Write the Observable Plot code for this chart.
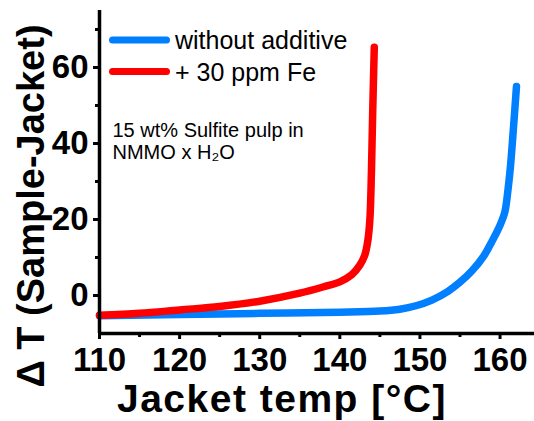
<!DOCTYPE html>
<html><head><meta charset="utf-8">
<script src="https://cdn.jsdelivr.net/npm/d3@7"></script>
<script src="https://cdn.jsdelivr.net/npm/@observablehq/plot@0.6"></script>
<style>
html,body{margin:0;padding:0;background:#fff;}
#wrap{position:relative;width:534px;height:421px;overflow:hidden;font-family:"Liberation Sans",Arial,sans-serif;}
#wrap svg.overlay{position:absolute;left:0;top:0;pointer-events:none;}
</style></head><body><div id="wrap"></div>
<script>
// ---- data ----
const seriesNames = ["without additive", "+ 30 ppm Fe"];
const seriesColors = ["#007fff", "#ff0000"];

const blueT  = [110, 120, 130, 140, 145, 147.5, 149.5, 151.5, 153.5, 155, 156.5, 158, 159, 160, 160.6, 161.0, 161.3, 161.6, 162.05];
const blueDT = [-5.3, -5.0, -4.7, -4.4, -4.1, -3.6, -2.7, -1.2, 1.1, 3.5, 6.5, 10.5, 14.3, 18.5, 22, 28, 34, 42, 55];

const redT  = [110, 115, 120, 125, 130, 135, 138, 140, 141.5, 142.5, 143.1, 143.5, 143.75, 143.95, 144.1, 144.3];
const redDT = [-5.2, -4.7, -3.8, -2.9, -1.5, 0.6, 2.3, 3.6, 5.5, 8, 10.5, 14.5, 20, 33, 48, 65.3];

const xTicks = [110, 120, 130, 140, 150, 160];
const xMinorTicks = [115, 125, 135, 145, 155];
const yTicks = [0, 20, 40, 60];
const yMinorTicks = [10, 30, 50, 70];
const xLabel = "Jacket temp [°C]";
const yLabel = "Δ T (Sample-Jacket)";
const noteText = "15 wt% Sulfite pulp in\nNMMO x H₂O";

// ---- build table ----
const rows = [
  ...blueT.map((t, i) => ({T: t, dT: blueDT[i], series: seriesNames[0]})),
  ...redT.map((t, i) => ({T: t, dT: redDT[i], series: seriesNames[1]}))
];

const font = '"Liberation Sans", Arial, sans-serif';

const chart = Plot.plot({
  width: 534, height: 421,
  marginLeft: 99, marginRight: 0, marginTop: 10, marginBottom: 88,
  style: {fontFamily: font, background: "white", color: "black", overflow: "hidden"},
  x: {domain: [110, 164.3], label: null},
  y: {domain: [-10, 75], label: null},
  color: {domain: seriesNames, range: seriesColors},
  marks: [
    Plot.line(rows, {x: "T", y: "dT", stroke: "series", curve: "catmull-rom", strokeWidth: 7.5, strokeLinecap: "round", strokeLinejoin: "round"}),
    Plot.ruleX([110], {stroke: "black", strokeWidth: 3.5}),
    Plot.ruleY([-10], {stroke: "black", strokeWidth: 3.5}),
    Plot.axisX({ticks: xTicks, tickSize: 6, tickPadding: 8, strokeWidth: 3, tickFormat: d => String(d), fontSize: 33, fontWeight: "bold", label: null}),
    Plot.axisX({ticks: xMinorTicks, tickSize: 4, strokeWidth: 3, tickFormat: () => "", label: null}),
    Plot.axisY({ticks: yTicks, tickSize: 6, tickPadding: 5, strokeWidth: 3, tickFormat: d => String(d), fontSize: 33, fontWeight: "bold", label: null}),
    Plot.axisY({ticks: yMinorTicks, tickSize: 4, strokeWidth: 3, tickFormat: () => "", label: null}),
    Plot.text([yLabel], {text: d => d, frameAnchor: "left", rotate: -90, dx: -56, dy: 34, textAnchor: "middle", lineAnchor: "bottom", fontSize: 38, fontWeight: "bold", fill: "black"}),
    Plot.text([xLabel], {text: d => d, frameAnchor: "bottom", dx: -35, dy: 78, textAnchor: "middle", lineAnchor: "bottom", fontSize: 39, fontWeight: "bold", fill: "black"}),
    Plot.text([noteText], {text: d => d, frameAnchor: "top-left", dx: 13, dy: 111, textAnchor: "start", lineAnchor: "top", lineHeight: 1.085, fontSize: 20, fill: "black"})
  ]
});

const wrap = document.getElementById("wrap");
wrap.appendChild(chart);
d3.select(chart).selectAll("text").filter(function() { return this.textContent === xLabel; })
  .attr("letter-spacing", 1.5);

// ---- legend overlay ----
const ov = d3.select(wrap).append("svg").attr("class", "overlay").attr("width", 534).attr("height", 421);
seriesNames.forEach((name, i) => {
  const y0 = 40 + 31.6 * i;
  ov.append("line").attr("x1", 112.5).attr("x2", 166.5).attr("y1", y0).attr("y2", y0)
    .attr("stroke", seriesColors[i]).attr("stroke-width", 7).attr("stroke-linecap", "round");
  ov.append("text").attr("x", 175).attr("y", y0 + 9.4).attr("font-family", font).attr("font-size", 25)
    .attr("fill", "black").text(name);
});
</script>
</body></html>
